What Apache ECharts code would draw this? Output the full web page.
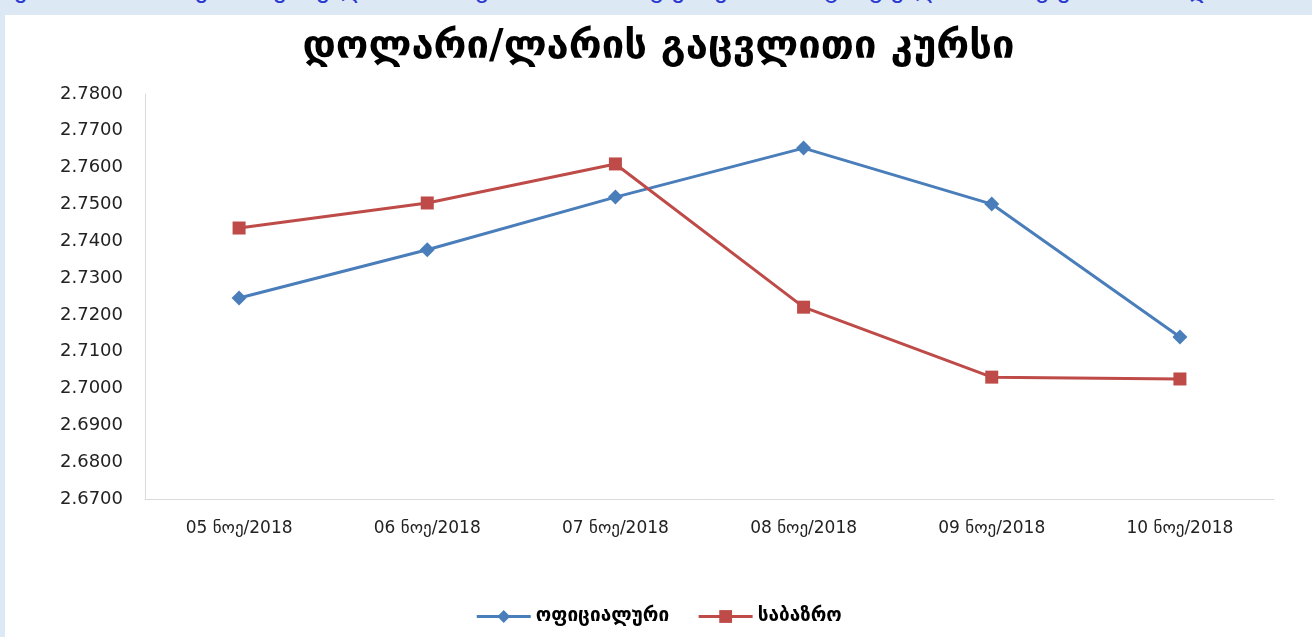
<!DOCTYPE html>
<html>
<head>
<meta charset="utf-8">
<script src="https://cdn.jsdelivr.net/npm/echarts@6/dist/echarts.min.js"></script>
<style>
  html, body { margin: 0; padding: 0; background: #dde8f5; overflow: hidden; }
  #top { position: absolute; left: 0; top: 0; width: 1312px; height: 15px; overflow: hidden; }
  #top span { position: absolute; left: 14px; top: -27px; font: 26px "DejaVu Sans"; color: #2a3ad0; white-space: nowrap; letter-spacing: 8px; }
  #chart { position: absolute; left: 5px; top: 15px; width: 1307px; height: 622px; background: #fff; }
</style>
</head>
<body>
<div id="top"><span>ერთიანი ეროვნული ბანკის მონაცემებით გაცვლითი კურსის დინამიკა ნოემბერში</span></div>
<div id="chart"></div>
<script>
const categories = ["05 ნოე/2018", "06 ნოე/2018", "07 ნოე/2018", "08 ნოე/2018", "09 ნოე/2018", "10 ნოე/2018"];
const official = [2.7246, 2.7377, 2.7520, 2.7653, 2.7501, 2.7140];
const market = [2.7436, 2.7504, 2.7610, 2.7221, 2.7031, 2.7026];
const seriesNames = ["ოფიციალური", "საბაზრო"];

const chart = echarts.init(document.getElementById("chart"));
chart.setOption({
  animation: false,
  title: {
    text: "დოლარი/ლარის გაცვლითი კურსი",
    left: "center",
    top: 8,
    textStyle: { fontFamily: "DejaVu Sans", fontSize: 40, fontWeight: "bold", color: "#000" },
  },
  grid: { left: 140, right: 38, top: 79, bottom: 138 },
  xAxis: {
    type: "category",
    data: categories,
    boundaryGap: true,
    axisLine: { lineStyle: { color: "#d9d9d9", width: 1 } },
    axisTick: { show: false },
    axisLabel: { color: "#222", fontFamily: "DejaVu Sans", fontSize: 17, margin: 21 },
  },
  yAxis: {
    type: "value",
    min: 2.67,
    max: 2.78,
    interval: 0.01,
    axisLine: { show: true, lineStyle: { color: "#d9d9d9", width: 1 } },
    axisTick: { show: false },
    splitLine: { show: false },
    axisLabel: {
      color: "#222",
      fontFamily: "DejaVu Sans",
      fontSize: 18,
      margin: 22,
      formatter: (v) => v.toFixed(4),
    },
  },
  legend: {
    top: 587,
    left: "center",
    itemWidth: 54,
    itemHeight: 16,
    itemGap: 28,
    lineStyle: { width: 3 },
    textStyle: { fontFamily: "DejaVu Sans", fontSize: 19, fontWeight: "bold", color: "#000" },
    data: seriesNames,
  },
  series: [
    {
      name: seriesNames[0],
      type: "line",
      data: official,
      symbol: "diamond",
      symbolSize: 15,
      lineStyle: { color: "#4a7ebb", width: 3 },
      itemStyle: { color: "#4a7ebb" },
    },
    {
      name: seriesNames[1],
      type: "line",
      data: market,
      symbol: "rect",
      symbolSize: 13,
      lineStyle: { color: "#be4b48", width: 3 },
      itemStyle: { color: "#be4b48" },
    },
  ],
});
</script>
</body>
</html>
